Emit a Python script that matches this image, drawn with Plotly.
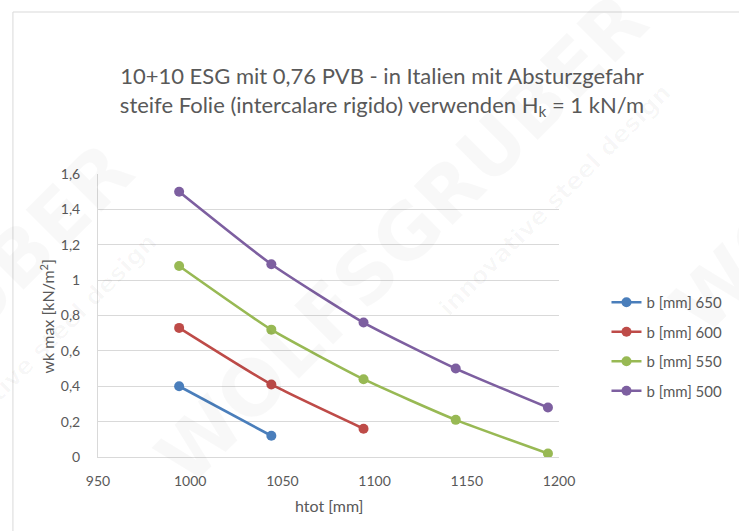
import plotly.graph_objects as go

# Total height htot [mm] and maximum wind load wk max [kN/m²] per pane width b
htot = [994, 1044, 1094, 1144, 1194]
wk_650 = [0.40, 0.12]
wk_600 = [0.73, 0.41, 0.16]
wk_550 = [1.08, 0.72, 0.44, 0.21, 0.02]
wk_500 = [1.50, 1.09, 0.76, 0.50, 0.28]

series_names = ["b [mm] 650", "b [mm] 600", "b [mm] 550", "b [mm] 500"]
series_values = [wk_650, wk_600, wk_550, wk_500]
series_colors = ["#4A7EBB", "#BE4B48", "#98B954", "#7D5FA0"]

x_ticks = [950, 1000, 1050, 1100, 1150, 1200]
y_ticks = [0, 0.2, 0.4, 0.6, 0.8, 1.0, 1.2, 1.4, 1.6]

W, H = 739, 531
L, R, T, B = 98, 175, 174, 74
PW, PH = W - L - R, H - T - B


def px(x):
    return (x - L) / PW


def py(y):
    return (H - B - y) / PH


FONT = "Lato, 'Open Sans', sans-serif"
GREY = "#595959"
GRID = "#D9D9D9"

fig = go.Figure()
for name, vals, col in zip(series_names, series_values, series_colors):
    fig.add_trace(go.Scatter(
        x=htot[:len(vals)], y=vals, name=name, legendgroup=name,
        mode="lines+markers",
        line=dict(color=col, width=2.6, shape="spline", smoothing=0.5),
        marker=dict(color=col, size=10),
    ))

annotations = []

# faint company watermark, drawn first so the axis titles sit on top
wm_color = "rgba(0,0,0,0.028)"
for dx, dy in [(0, 0), (-520, 150), (520, -150)]:
    annotations.append(dict(text="<b>WOLFSGRUBER</b>", x=px(405 + dx), y=py(238 + dy),
                            xref="paper", yref="paper", xanchor="center", yanchor="middle",
                            textangle=-45, showarrow=False,
                            font=dict(family="DejaVu Sans", size=76, color=wm_color)))
    annotations.append(dict(text="<b>innovative steel design</b>", x=px(560 + dx), y=py(200 + dy),
                            xref="paper", yref="paper", xanchor="center", yanchor="middle",
                            textangle=-45, showarrow=False,
                            font=dict(family="DejaVu Sans", size=24, color=wm_color)))

# axis titles
annotations += [
    dict(text="wk max [kN/m<sup>2</sup>]", x=px(46), y=py(316), xref="paper", yref="paper",
         xanchor="center", yanchor="middle",
         textangle=-90, showarrow=False, font=dict(family=FONT, size=16, color=GREY)),
    dict(text="htot [mm]", x=px(332), y=py(505), xref="paper", yref="paper",
         xanchor="center", yanchor="middle",
         showarrow=False, font=dict(family=FONT, size=16, color=GREY)),
]

fig.update_layout(
    width=W, height=H,
    margin=dict(l=L, r=R, t=T, b=B),
    paper_bgcolor="white", plot_bgcolor="white",
    separators=",.",
    title=dict(
        text="10+10 ESG mit 0,76 PVB - in Italien mit Absturzgefahr<br>"
             "steife Folie (intercalare rigido) verwenden H<sub>k</sub> = 1 kN/m",
        x=382 / W, xanchor="center", xref="container",
        y=1 - 84 / H, yanchor="middle", yref="container",
        font=dict(family=FONT, size=22, color=GREY),
    ),
    xaxis=dict(range=[950, 1200], tickvals=x_ticks, showgrid=False, zeroline=False,
               showline=True, linecolor=GRID, linewidth=1, ticks="",
               ticklabelstandoff=11,
               tickfont=dict(family=FONT, size=14, color=GREY)),
    yaxis=dict(range=[0, 1.6], tickvals=y_ticks, showgrid=True, gridcolor=GRID, gridwidth=1,
               zeroline=False, showline=True, linecolor=GRID, linewidth=1, ticks="",
               ticklabelstandoff=14,
               tickfont=dict(family=FONT, size=14, color=GREY)),
    legend=dict(x=px(612), y=py(286), xanchor="left", yanchor="top",
                font=dict(family=FONT, size=15, color=GREY), tracegroupgap=7,
                bgcolor="rgba(0,0,0,0)"),
    showlegend=True,
    annotations=annotations,
    shapes=[dict(type="rect", xref="paper", yref="paper",
                 x0=px(12), x1=px(760), y0=py(560), y1=py(12),
                 line=dict(color=GRID, width=1), fillcolor="rgba(0,0,0,0)", layer="below")],
)

fig.write_html("out.html")
